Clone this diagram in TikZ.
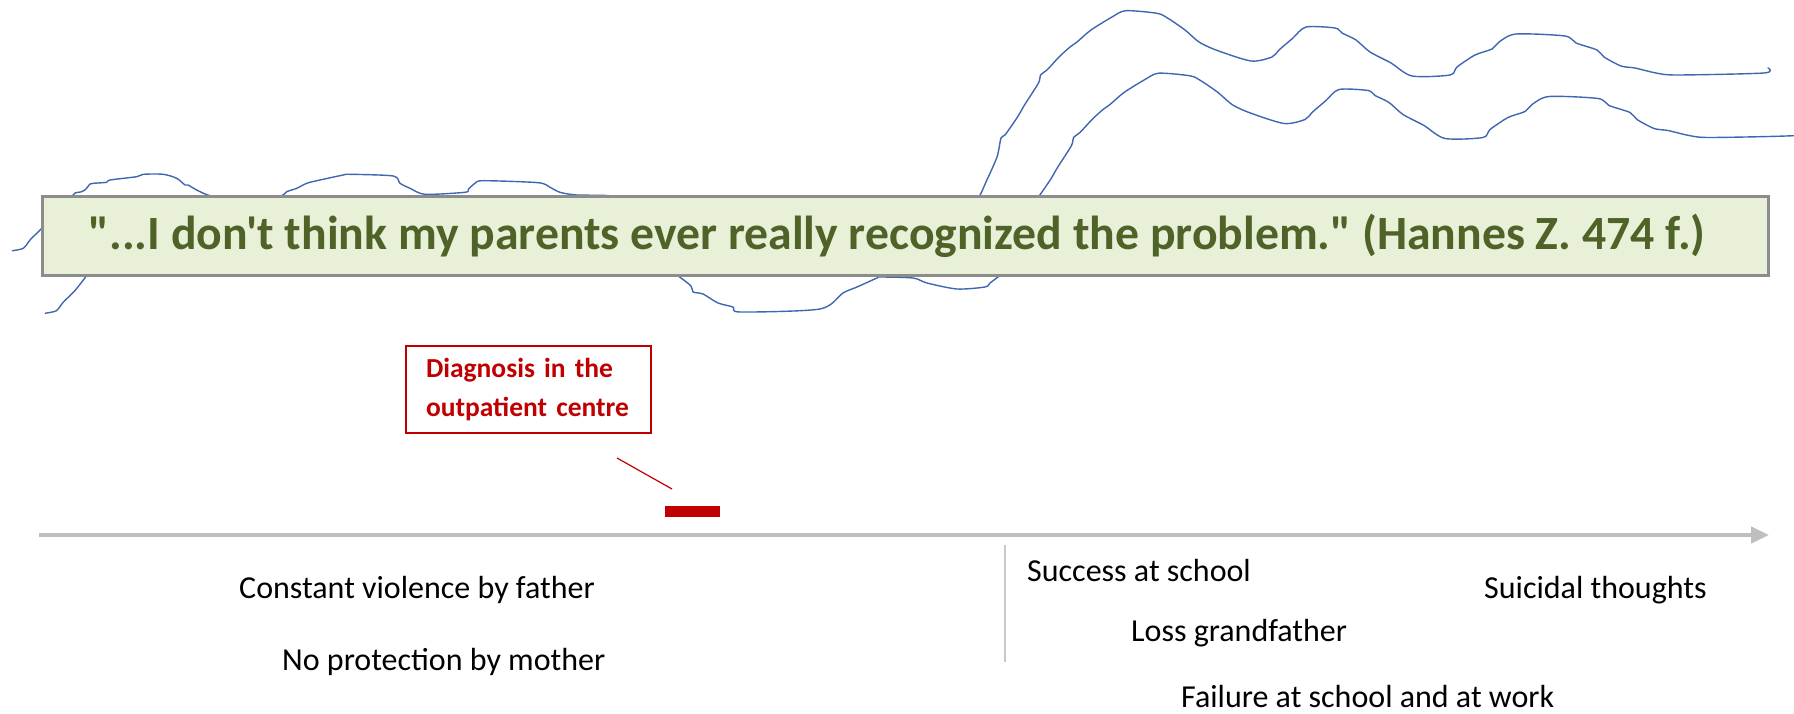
\documentclass[tikz,border=0pt]{standalone}
\usepackage{fontspec}
\newfontfamily\calibri{Carlito}
\usetikzlibrary{arrows.meta}
\definecolor{quotefill}{HTML}{E8F0D8}
\definecolor{quoteedge}{HTML}{8C8C8C}
\definecolor{quotetext}{HTML}{4F6228}
\definecolor{darkred}{HTML}{C00000}
\definecolor{axisgray}{HTML}{BFBFBF}
\definecolor{sepgray}{HTML}{C8C8C8}
\definecolor{curveblue}{HTML}{3F67B1}
\tikzset{
  curve/.style={draw=curveblue, line width=1.4pt, line join=round, line cap=round},
  quotebox/.style={draw=quoteedge, line width=3pt, fill=quotefill, text=quotetext,
     font=\calibri\fontsize{47.7}{56}\selectfont\bfseries, minimum width=1726pt, minimum height=78pt, inner sep=0pt},
  diagbox/.style={draw=darkred, line width=1.5pt, fill=white, text=darkred, align=left,
     font=\calibri\fontsize{27.5}{34}\selectfont\bfseries, text width=205pt, inner xsep=20pt, minimum height=87pt},
  redbar/.style={fill=darkred, minimum width=55pt, minimum height=11pt, inner sep=0pt},
  eventtext/.style={anchor=base west, inner sep=0pt, font=\calibri\fontsize{32}{38}\selectfont},
  timeaxis/.style={draw=axisgray, line width=4.5pt, -{Triangle[length=18pt,width=16pt]}},
  sepline/.style={draw=sepgray, line width=1.5pt},
  leader/.style={draw=darkred, line width=1.2pt}
}
\begin{document}
\begin{tikzpicture}[x=1pt,y=-1pt]
\useasboundingbox (0,0) rectangle (1794,714);
\begin{scope}
\clip (0,0) rectangle (1794,714);
\foreach \dx/\dy in {0/0,33/62.5}{
\draw[curve, shift={(\dx,\dy)}] plot[smooth, tension=0.45] coordinates {
(12.3,250.7) (23.3,248.3) (30,240) (35,235) (41.7,228.3) (50,218) (60,205) (71.7,196.7)
(75,193) (81.7,191.7) (86,189) (90,184) (93.3,183.3) (106.7,182.3) (110,180) (136.7,176.7)
(143.3,174.3) (163.3,174.3) (176.7,178.3) (185,185) (188,185) (196.7,190) (210,195.7)
(235,199) (260,199) (281.7,195.7) (286.7,191.7) (296.7,188.3) (306.7,183.3) (320,180)
(343.3,175) (350,174.3) (393.3,176) (400,183.3) (410,188.3) (425,194.3) (465,192.3)
(468.3,189.3) (475,183.3) (483.3,180.7) (538.3,182.7) (550,187.3) (560,192.3) (576.7,195)
(616.7,196.7) (643.7,212.5) (658,223.5) (660,229.5) (670,231.5) (685,240.5) (700,244.5)
(707,249.5) (787,246.5) (810,230.5) (824,224.5) (844,215.5) (847,214.5) (880,215.5)
(894,220.5) (924,226.5) (952,224.5) (957,220.5) (967,212.5) (979,197) (986,182) (997,157)
(1001,138) (1005,135) (1017.5,117) (1024.5,105) (1038.5,83) (1040.5,75) (1047,70) (1059,57)
(1070,47) (1077,42) (1091,30) (1112,17) (1125.7,10.7) (1157,13.3) (1167.5,18) (1185,30)
(1199,42) (1216,50) (1251,61) (1272,57) (1279,50) (1293,38) (1306,27) (1335,28) (1342,33)
(1356,40) (1370,52) (1391,63) (1412,76) (1450,75) (1457,67) (1475,55) (1492,49) (1499,42)
(1516,34) (1565,36) (1576,43) (1597,50) (1604,57) (1621,66) (1635,68) (1656,73) (1677,75)
(1764,73) (1768,68)};
}
\end{scope}
\node[quotebox] (quote) at (905,236) {"...I don't think my parents ever really recognized the problem." (Hannes Z. 474 f.)\kern16pt};
\node[diagbox] (diag) at (528.5,389.5) {\vspace*{5pt}Diagnosis in the\\outpatient centre};
\coordinate (leadA) at (617,458);
\coordinate (leadB) at (672,489);
\draw[leader] (leadA) -- (leadB);
\node[redbar] (bar) at (692.5,511.5) {};
\coordinate (axisstart) at (39,535);
\coordinate (axisend) at (1769,535);
\draw[timeaxis] (axisstart) -- (axisend);
\coordinate (septop) at (1005,545);
\coordinate (sepbot) at (1005,662);
\draw[sepline] (septop) -- (sepbot);
\node[eventtext] (violence) at (239,598) {Constant violence by father};
\node[eventtext] (protection) at (282,670) {No protection by mother};
\node[eventtext] (success) at (1027,581) {Success at school};
\node[eventtext] (suicidal) at (1484,598) {Suicidal thoughts};
\node[eventtext] (loss) at (1131,641) {Loss grandfather};
\node[eventtext] (failure) at (1181,707) {Failure at school and at work};
\end{tikzpicture}
\end{document}
